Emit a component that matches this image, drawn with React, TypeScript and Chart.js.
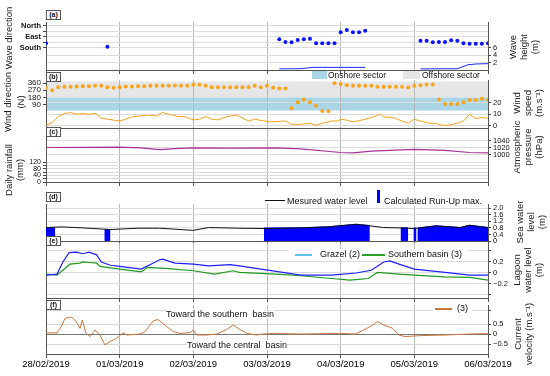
import React, { useEffect, useRef } from "react";
import { Chart, registerables } from "chart.js";
Chart.register(...registerables);

const FONT = '"Liberation Sans", Arial, Helvetica, sans-serif';
Chart.defaults.font.family = FONT;

// time axis: hours since 28/02/2019 00:00
const dayHours = [0, 24, 48, 72, 96, 120, 144];
const dayLabels = ["28/02/2019", "01/03/2019", "02/03/2019", "03/03/2019", "04/03/2019", "05/03/2019", "06/03/2019"];

// (a) wave direction (deg) and wave height (m)
const waveDirHours = [0, 20, 76, 78, 80, 82, 84, 86, 88, 90, 92, 94, 96, 98, 100, 102, 104, 122, 124, 126, 128, 130, 132, 134, 136, 138, 140, 142, 144];
const waveDirDeg = [144, 172, 111, 133, 136, 117, 111, 106, 144, 144, 144, 144, 54, 35, 54, 54, 41, 123, 123, 136, 133, 133, 119, 123, 144, 147, 147, 147, 144];
const waveHHours = [76, 83, 87, 104, 104, 122, 134, 137.5, 140, 144];
const waveHValues = [0.3, 0.35, 0.7, 0.7, null, 0.3, 0.35, 1.4, 1.6, 1.7];

// (b) wind direction (2-hourly, deg) and wind speed (m/s)
const windDirDeg = [300, 270, 309, 313, 313, 317, 321, 321, 325, 325, 309, 300, 309, 317, 317, 321, 321, 325, 325, 325, 325, 330, 325, 325, 339, 339, 325, 309, 309, 309, 309, 309, 309, 309, 325, 309, 325, 300, 292, 292, 47, 120, 154, 120, 77, 13, 9, 356, 347, 334, 325, 325, 325, 325, 313, 313, 313, 313, 313, 304, 325, 334, 343, 343, 154, 99, 99, 99, 120, 150, 150, 163, 150];
const windDirHours = windDirDeg.map((_, i) => i * 2);
const windSpeedHours = [0, 2, 4, 6, 8, 10, 12, 14, 16, 18, 22, 24, 26, 28, 33, 36, 38, 40, 43, 45, 48, 50, 52, 54, 56, 59, 62, 63, 66, 68, 71, 73, 78, 80, 83, 86, 88, 90, 93, 95, 96, 98, 100, 103, 106, 109, 110, 113, 115, 118, 119, 120, 122, 125, 127, 129, 131, 134, 136, 138, 140, 142, 144];
const windSpeedValues = [0.6, 2.9, 8.1, 10.7, 11.6, 10.1, 10.7, 10.1, 11, 6.7, 5, 4.3, 5.8, 7.8, 9.3, 8.7, 11.6, 10.1, 8.1, 8.1, 5.2, 5.8, 8.1, 5.8, 5.2, 8.1, 9.3, 8.1, 4.3, 5.8, 4.3, 3.5, 4.3, 1.4, 1.4, 2.3, 0.6, 2.3, 4.3, 4.3, 5.8, 5, 3.5, 5.2, 7.2, 10.1, 7.8, 7.2, 5.2, 2.3, 4.3, 5.8, 4.3, 2.3, 2.3, 0.6, 0.6, 2.3, 4.3, 10.1, 6.4, 7.2, 6.7];
const onshoreSector = [17, 180];
const offshoreSector = [180, 380];

// (c) atmospheric pressure (hPa), daily rainfall (mm)
const pressureHours = [0, 24, 31, 37, 42, 48, 60, 75, 83, 96, 100, 106, 120, 130, 138, 144];
const pressureValues = [1021, 1022, 1020, 1015, 1018, 1020, 1019, 1020, 1017, 1007, 1006, 1011, 1016, 1013, 1007, 1006];
const rainHours = [12, 36, 60, 84, 108, 132];
const rainValues = [0, 0, 0, 0, 0, 0];

// (d) sea water level (m) and calculated run-up max (m)
const seaHours = [0, 5, 12, 21, 30, 37, 48, 53, 63, 72, 83, 92, 101, 106, 110, 115, 120, 127, 135, 138, 144];
const seaValues = [0.82, 0.86, 0.8, 0.7, 0.78, 0.78, 0.65, 0.82, 0.78, 0.76, 0.8, 0.86, 1.02, 0.92, 0.82, 0.8, 0.76, 0.92, 0.82, 0.96, 0.82];
const runUpHours = [0, 3, 3, 19, 21, 21, 71, 83, 92, 101, 105.5, 105.5, 115.5, 118, 118, 119.7, 120.7, 120.7, 121, 127, 135, 138, 144];
const runUpValues = [0.86, 0.84, null, 0.74, 0.72, null, 0.82, 0.84, 0.9, 1.05, 0.97, null, 0.84, 0.84, null, 0.82, 0.82, null, 0.82, 0.96, 0.86, 1.0, 0.86];

// (e) lagoon water level (m)
const grazelHours = [0, 3.6, 5.5, 7.5, 10, 12, 14, 16.5, 18, 21, 24, 31, 35, 37, 38, 42, 48, 53, 60, 63, 70, 75, 83, 93, 101, 106, 110, 112, 115, 120, 130, 138, 144];
const grazelValues = [-0.04, -0.02, 0.2, 0.37, 0.38, 0.35, 0.38, 0.33, 0.2, 0.14, 0.12, 0.07, 0.18, 0.24, 0.25, 0.18, 0.16, 0.13, 0.15, 0.13, 0.07, 0.03, -0.04, -0.04, 0, 0.05, 0.2, 0.22, 0.16, 0.07, 0.01, -0.04, -0.04];
const southHours = [0, 3.6, 7.8, 11, 12, 14, 16.5, 17.6, 24, 31, 33, 40, 48, 55, 61, 63, 75, 83, 93, 99, 105, 108, 115, 120, 130, 138, 144];
const southValues = [-0.02, -0.04, 0.16, 0.18, 0.2, 0.19, 0.18, 0.12, 0.07, 0.02, 0.1, 0.08, 0.04, -0.02, 0.04, 0.01, -0.02, -0.05, -0.1, -0.13, -0.1, 0.01, -0.02, -0.04, -0.07, -0.08, -0.13];

// (f) current velocity (m/s)
const velHours = [0, 3.6, 4.9, 6.2, 7.3, 8.4, 9.4, 10.2, 11.1, 11.8, 13, 14.3, 16, 17.6, 19.2, 20.8, 23, 25.1, 26.3, 30.6, 32.3, 33.9, 35, 36.5, 38.1, 39.3, 41.5, 43.7, 46.9, 48, 49.1, 52.4, 55.6, 58.9, 61, 62.6, 65.4, 68.6, 70.8, 74, 83, 96, 101, 103, 106, 108, 110, 113, 115, 117, 122, 130, 138, 144];
const velValues = [0.06, 0.05, 0.35, 0.78, 0.83, 0.83, 0.7, 0.53, 0.28, 0.7, 0.05, -0.13, 0.2, -0.05, -0.55, -0.38, -0.22, 0.06, -0.05, 0, 0.12, 0.45, 0.67, 0.72, 0.53, 0.37, 0.12, 0.03, 0.07, 0.2, -0.05, -0.05, 0, 0.23, 0.45, 0.28, 0.03, -0.05, 0, 0.03, 0, 0.03, 0, 0.17, 0.4, 0.62, 0.45, 0.28, -0.05, -0.13, -0.08, -0.05, 0, 0.02];

const L_W = 46;
const R_W = 62;

const pts = (xs: number[], ys: (number | null)[]) => xs.map((x, i) => ({ x, y: ys[i] }));

function xScale(h: number, showLabels: boolean) {
  return {
    type: "linear",
    min: 0,
    max: 144,
    afterBuildTicks: (s: any) => {
      s.ticks = dayHours.map((v) => ({ value: v }));
    },
    ticks: {
      display: showLabels,
      autoSkip: false,
      maxRotation: 0,
      padding: 1,
      color: "#000",
      font: { size: 9.5 },
      callback: (_v: any, i: number) => dayLabels[i],
    },
    grid: { color: "#b8b8b8", lineWidth: 1, drawTicks: true, tickLength: 4, tickColor: "#555" },
    border: { display: true, color: "#555" },
    afterFit: (s: any) => {
      s.height = h;
      s.paddingLeft = 0;
      s.paddingRight = 0;
    },
  };
}

function yScale(position: string, min: number, max: number, tickVals: number[], opts: any = {}) {
  const { labels, font, grid, reverse, showLabels = true, gridColor = "#dcdcdc" } = opts;
  return {
    type: "linear",
    position,
    min,
    max,
    reverse: !!reverse,
    afterBuildTicks: (s: any) => {
      s.ticks = tickVals.map((v) => ({ value: v }));
    },
    ticks: {
      display: showLabels,
      autoSkip: false,
      padding: 2,
      color: "#111",
      font: font || { size: 7.5 },
      callback: (v: any, i: number) => (labels ? labels[i] : String(v)),
    },
    grid: {
      display: true,
      drawOnChartArea: !!grid,
      color: gridColor,
      drawTicks: tickVals.length > 0,
      tickLength: 3,
      tickColor: "#444",
    },
    border: { display: true, color: "#555", width: 1 },
    afterFit: (s: any) => {
      s.width = position === "left" ? L_W : R_W;
      s.paddingTop = 0;
      s.paddingBottom = 0;
    },
  };
}

type PanelProps = { top: number; bottom: number; xH?: number; labels?: boolean; make: () => any };

function Panel({ top, bottom, xH = 5, labels = false, make }: PanelProps) {
  const ref = useRef<HTMLCanvasElement>(null);
  const padT = 8;
  const padB = labels ? 4 : 6;
  const H = padT + (bottom - top) + xH + padB;
  useEffect(() => {
    const { datasets, scales, plugins = [] } = make();
    const chart = new Chart(ref.current as HTMLCanvasElement, {
      type: "line",
      data: { datasets },
      options: {
        animation: false,
        responsive: false,
        devicePixelRatio: 1,
        maintainAspectRatio: false,
        layout: { padding: { top: padT, bottom: padB, left: 0, right: 0 } },
        plugins: { legend: { display: false }, tooltip: { enabled: false } },
        scales: { x: xScale(xH, labels), ...scales },
        elements: { point: { radius: 0 }, line: { tension: 0 } },
      } as any,
      plugins,
    } as any);
    return () => chart.destroy();
  }, []);
  return (
    <canvas
      ref={ref}
      width={550}
      height={H}
      style={{ position: "absolute", left: 0, top: top - padT, width: 550, height: H }}
    />
  );
}

const bandPlugin = {
  id: "bands",
  beforeDraw(chart: any) {
    const { ctx, chartArea } = chart;
    const y = chart.scales.yL;
    const band = (r: number[], c: string) => {
      const y1 = y.getPixelForValue(r[1]);
      const y0 = y.getPixelForValue(r[0]);
      ctx.fillStyle = c;
      ctx.fillRect(chartArea.left, y1, chartArea.right - chartArea.left, y0 - y1);
    };
    ctx.save();
    band(offshoreSector, "#e6e6e6");
    band(onshoreSector, "#a9d5e6");
    ctx.restore();
  },
};

const makeA = () => ({
  datasets: [
    {
      data: pts(waveDirHours, waveDirDeg),
      yAxisID: "yL",
      showLine: false,
      pointRadius: 2,
      pointBackgroundColor: "#0a14ff",
      pointBorderWidth: 0,
    },
    {
      data: pts(waveHHours, waveHValues),
      yAxisID: "yR",
      borderColor: "#1a2cff",
      borderWidth: 1,
      spanGaps: false,
    },
  ],
  scales: {
    yL: yScale("left", -30, 362, [0, 45, 90, 135, 180], {
      reverse: true,
      grid: true,
      labels: ["North", "", "East", "", "South"],
      font: { size: 7.5, weight: "bold" },
    }),
    yR: yScale("right", 0, 12.8, [2, 4, 6], { grid: true }),
  },
});

const makeB = () => ({
  datasets: [
    {
      data: pts(windDirHours, windDirDeg),
      yAxisID: "yL",
      showLine: false,
      pointRadius: 2,
      pointBackgroundColor: "#f8a51c",
      pointBorderWidth: 0,
    },
    {
      data: pts(windSpeedHours, windSpeedValues),
      yAxisID: "yR",
      borderColor: "#f7a21b",
      borderWidth: 1,
    },
  ],
  scales: {
    yL: yScale("left", -200, 398, [90, 180, 270, 360], { font: { size: 8 } }),
    yR: yScale("right", -1.76, 39.6, [0, 10, 20], { grid: true }),
  },
  plugins: [bandPlugin],
});

const makeC = () => ({
  datasets: [
    {
      data: pts(pressureHours, pressureValues),
      yAxisID: "yR",
      borderColor: "#a8329a",
      borderWidth: 1.2,
    },
    {
      data: pts(rainHours, rainValues),
      yAxisID: "yL",
      borderWidth: 0,
      showLine: false,
    },
  ],
  scales: {
    yL: yScale("left", 0, 318, [0, 20, 40, 60, 80, 100, 120], {
      grid: true,
      labels: ["0", "", "40", "", "80", "", "120"],
      font: { size: 7 },
    }),
    yR: yScale("right", 924.5, 1072.7, [1000, 1020, 1040], { grid: true }),
  },
});

const makeD = () => ({
  datasets: [
    {
      data: pts(seaHours, seaValues),
      yAxisID: "yR",
      borderColor: "#111",
      borderWidth: 1,
    },
    {
      data: pts(runUpHours, runUpValues),
      yAxisID: "yR",
      borderWidth: 0,
      borderColor: "rgba(0,0,0,0)",
      backgroundColor: "#0000ff",
      fill: "origin",
      spanGaps: false,
    },
  ],
  scales: {
    yL: yScale("left", 0, 1, [], { showLabels: false }),
    yR: yScale("right", 0, 2.26, [0, 0.4, 0.8, 1.2, 1.6, 2.0], {
      grid: true,
      labels: ["0", "0.4", "0.8", "1.2", "1.6", "2.0"],
    }),
  },
});

const makeE = () => ({
  datasets: [
    { data: pts(grazelHours, grazelValues), yAxisID: "yR", borderColor: "#1f1fff", borderWidth: 1.2 },
    { data: pts(southHours, southValues), yAxisID: "yR", borderColor: "#1e9b1e", borderWidth: 1.2 },
  ],
  scales: {
    yL: yScale("left", 0, 1, [], { showLabels: false }),
    yR: yScale("right", -0.455, 0.545, [-0.4, -0.2, 0, 0.2, 0.4], {
      grid: true,
      labels: ["", "−0.2", "0", "0.2", ""],
    }),
  },
});

const makeF = () => ({
  datasets: [{ data: pts(velHours, velValues), yAxisID: "yR", borderColor: "#c9773d", borderWidth: 1 }],
  scales: {
    yL: yScale("left", 0, 1, [], { showLabels: false }),
    yR: {
      ...yScale("right", -1.0, 1.45, [-0.5, 0, 0.5, 1.2], {
        grid: true,
        labels: ["−0.5", "0", "0.5", ""],
      }),
      grid: {
        display: true,
        drawOnChartArea: true,
        color: (c: any) => (c.tick && c.tick.value === 0 ? "#777" : "#d6d6d6"),
        drawTicks: true,
        tickLength: 3,
        tickColor: "#444",
      },
    },
  },
});

const txt = (style: any) => ({ position: "absolute", fontFamily: FONT, color: "#111", whiteSpace: "pre", ...style });

function VText({ x, y, lines, size = 9.5, lh = 11 }: { x: number; y: number; lines: string[]; size?: number; lh?: number }) {
  return (
    <div
      style={{
        position: "absolute",
        left: x,
        top: y,
        transform: "translate(-50%, -50%) rotate(-90deg)",
        fontFamily: FONT,
        fontSize: size,
        lineHeight: lh + "px",
        textAlign: "center",
        whiteSpace: "nowrap",
        color: "#222",
      }}
    >
      {lines.map((l, i) => (
        <div key={i}>{l}</div>
      ))}
    </div>
  );
}

function Tag({ x, y, t }: { x: number; y: number; t: string }) {
  return (
    <div
      style={txt({
        left: x,
        top: y,
        width: 13,
        height: 8,
        border: "1px solid #555",
        background: "#fff",
        fontSize: 7,
        fontWeight: "bold",
        lineHeight: "8px",
        textAlign: "center",
      })}
    >
      {t}
    </div>
  );
}

export default function App() {
  return (
    <div style={{ position: "fixed", left: 0, top: 0, width: 550, height: 376, background: "#fff", overflow: "hidden" }}>
      <Panel top={22} bottom={70} make={makeA} />
      <Panel top={80} bottom={128} make={makeB} />
      <Panel top={129} bottom={182} make={makeC} />
      <Panel top={204} bottom={241} make={makeD} />
      <Panel top={243} bottom={298} make={makeE} />
      <Panel top={305} bottom={354} xH={18} labels make={makeF} />

      <Tag x={46} y={10} t="(a)" />
      <Tag x={46} y={72} t="(b)" />
      <Tag x={46} y={127} t="(c)" />
      <Tag x={46} y={192} t="(d)" />
      <Tag x={46} y={236} t="(e)" />
      <Tag x={46} y={300} t="(f)" />

      {/* left titles */}
      <VText x={8} y={38} lines={["Wave direction"]} size={9.5} />
      <VText x={14} y={102} lines={["Wind direction", "(N)"]} size={9.5} lh={13} />
      <VText x={14} y={170} lines={["Daily rainfall", "(mm)"]} size={9.5} lh={11} />

      {/* right titles */}
      <VText x={523} y={47} lines={["Wave", "height", "(m)"]} />
      <VText x={527} y={103} lines={["Wind", "speed", "(m.s⁻¹)"]} />
      <VText x={527} y={147} lines={["Atmospheric", "pressure", "(hPa)"]} />
      <VText x={530} y={222} lines={["Sea water", "level", "(m)"]} />
      <VText x={527} y={270} lines={["Lagoon", "water level", "(m)"]} />
      <VText x={523} y={334} lines={["Current", "velocity (m.s⁻¹)"]} />

      {/* legend (b) */}
      <div style={{ position: "absolute", left: 312, top: 71, width: 15, height: 8, background: "#a9d5e6" }} />
      <div style={txt({ left: 328, top: 70, fontSize: 8.5, lineHeight: "10px" })}>Onshore sector</div>
      <div style={{ position: "absolute", left: 403, top: 71, width: 17, height: 8, background: "#e6e6e6" }} />
      <div style={txt({ left: 422, top: 70, fontSize: 8.5, lineHeight: "10px" })}>Offshore sector</div>

      {/* legend (d) */}
      <div style={{ position: "absolute", left: 265, top: 200, width: 20, height: 1, background: "#111" }} />
      <div style={txt({ left: 287, top: 196, fontSize: 9, lineHeight: "10px", background: "#fff" })}>Mesured water level</div>
      <div style={{ position: "absolute", left: 377, top: 190, width: 3, height: 13, background: "#0000ff" }} />
      <div style={txt({ left: 384, top: 196, fontSize: 9, lineHeight: "10px", background: "#fff" })}>Calculated Run-Up max.</div>

      {/* legend (e) */}
      <div style={{ position: "absolute", left: 288, top: 249, width: 180, height: 10, background: "#fff" }} />
      <div style={{ position: "absolute", left: 295, top: 254, width: 17, height: 1.5, background: "#5cc3ee" }} />
      <div style={txt({ left: 320, top: 249, fontSize: 9, lineHeight: "10px" })}>Grazel (2)</div>
      <div style={{ position: "absolute", left: 362, top: 254, width: 23, height: 1.5, background: "#2ca02c" }} />
      <div style={txt({ left: 388, top: 249, fontSize: 9, lineHeight: "10px" })}>Southern basin (3)</div>

      {/* legend (f) */}
      <div style={{ position: "absolute", left: 432, top: 303, width: 40, height: 10, background: "#fff" }} />
      <div style={{ position: "absolute", left: 435, top: 308, width: 17, height: 1.5, background: "#c9773d" }} />
      <div style={txt({ left: 457, top: 303, fontSize: 9, lineHeight: "10px" })}>(3)</div>

      <div style={txt({ left: 166, top: 309, fontSize: 9, lineHeight: "10px", background: "#fff" })}>Toward the southern  basin</div>
      <div style={txt({ left: 187, top: 340, fontSize: 9, lineHeight: "10px", background: "#fff" })}>Toward the central  basin</div>
    </div>
  );
}
